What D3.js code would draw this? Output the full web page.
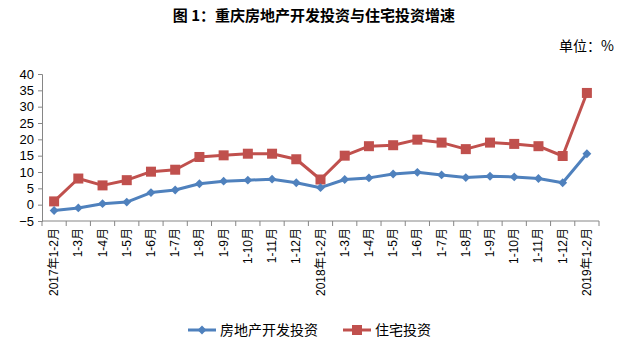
<!DOCTYPE html>
<html>
<head>
<meta charset="utf-8">
<script src="https://cdn.jsdelivr.net/npm/d3@7/dist/d3.min.js"></script>
<style>
  html, body { margin: 0; padding: 0; background: #fff; }
  svg { display: block; }
</style>
</head>
<body>
<svg id="chart" width="628" height="350"></svg>
<script>
// Period labels (cumulative months)
const categories = [
  "2017年1-2月", "1-3月", "1-4月", "1-5月", "1-6月", "1-7月", "1-8月", "1-9月", "1-10月", "1-11月", "1-12月",
  "2018年1-2月", "1-3月", "1-4月", "1-5月", "1-6月", "1-7月", "1-8月", "1-9月", "1-10月", "1-11月", "1-12月",
  "2019年1-2月"
];
// Growth rate, %
const realEstate = [-1.8, -1.0, 0.3, 0.8, 3.7, 4.5, 6.4, 7.2, 7.5, 7.8, 6.7,
  5.2, 7.7, 8.2, 9.4, 9.9, 9.1, 8.3, 8.7, 8.5, 8.0, 6.7, 15.6];
const housing = [1.0, 8.0, 5.9, 7.5, 10.1, 10.7, 14.6, 15.1, 15.6, 15.6, 13.9,
  7.7, 15.0, 17.9, 18.2, 19.9, 19.0, 17.0, 19.0, 18.6, 17.9, 14.9, 34.2];
const yTicks = [-5, 0, 5, 10, 15, 20, 25, 30, 35, 40];
const seriesNames = ["房地产开发投资", "住宅投资"];

const svg = d3.select("#chart");
const fontLatin = "Arial, 'Liberation Sans', 'Noto Sans CJK SC', sans-serif";
const fontCJK = "'Noto Sans CJK SC', sans-serif";

const plot = { left: 42, right: 599, top: 74, bottom: 221 };
const keys = categories.map((c, i) => i);

const x = d3.scaleBand().domain(keys).range([plot.left, plot.right]).padding(0);
const y = d3.scaleLinear().domain([-5, 40]).range([plot.bottom, plot.top]);

// Title and unit
svg.append("text")
  .attr("x", 314).attr("y", 21)
  .attr("text-anchor", "middle")
  .attr("font-family", fontCJK)
  .attr("font-weight", "bold")
  .attr("font-size", 15)
  .text("图 1：重庆房地产开发投资与住宅投资增速");

svg.append("text")
  .attr("x", 614).attr("y", 51)
  .attr("text-anchor", "end")
  .attr("font-family", fontCJK)
  .attr("font-size", 14)
  .text("单位：%");

// Y axis
const yAxis = svg.append("g")
  .attr("transform", `translate(${plot.left},0)`)
  .call(d3.axisLeft(y).tickValues(yTicks).tickSize(4).tickPadding(4));
yAxis.select(".domain").attr("stroke", "#868686");
yAxis.selectAll(".tick line").attr("stroke", "#868686");
yAxis.selectAll(".tick text")
  .attr("font-family", fontLatin).attr("font-size", 13).attr("fill", "#000");

// X axis: ticks at category boundaries
const xg = svg.append("g").attr("transform", `translate(0,${plot.bottom})`);
xg.append("line")
  .attr("x1", plot.left).attr("x2", plot.right)
  .attr("stroke", "#868686");
const boundaries = keys.map(k => x(k)).concat([plot.right]);
xg.selectAll("line.tk").data(boundaries).join("line")
  .attr("class", "tk")
  .attr("x1", d => d).attr("x2", d => d)
  .attr("y1", 0).attr("y2", 5)
  .attr("stroke", "#868686");
xg.selectAll("text.lbl").data(keys).join("text")
  .attr("class", "lbl")
  .attr("transform", k => `translate(${x(k) + x.bandwidth() / 2 + 4},7) rotate(-90)`)
  .attr("text-anchor", "end")
  .attr("font-family", fontLatin)
  .attr("font-size", 12)
  .attr("fill", "#000")
  .text(k => categories[k]);

const cx = i => x(i) + x.bandwidth() / 2;
const line = d3.line().x((d, i) => cx(i)).y(d => y(d));

const blue = "#4F81BD";
const red = "#C0504D";

// Housing investment series
svg.append("path")
  .datum(housing)
  .attr("fill", "none").attr("stroke", red).attr("stroke-width", 3)
  .attr("stroke-linejoin", "round")
  .attr("d", line);
svg.selectAll("rect.hs").data(housing).join("rect")
  .attr("class", "hs")
  .attr("x", (d, i) => cx(i) - 5).attr("y", d => y(d) - 5)
  .attr("width", 10).attr("height", 10)
  .attr("fill", red);

// Real estate development investment series
svg.append("path")
  .datum(realEstate)
  .attr("fill", "none").attr("stroke", blue).attr("stroke-width", 3)
  .attr("stroke-linejoin", "round")
  .attr("d", line);
const diamond = d3.symbol().type(d3.symbolDiamond2).size(50);
svg.selectAll("path.re").data(realEstate).join("path")
  .attr("class", "re")
  .attr("transform", (d, i) => `translate(${cx(i)},${y(d)})`)
  .attr("d", diamond)
  .attr("fill", blue);

// Legend
const legend = svg.append("g").attr("transform", "translate(0,330)");
const items = [
  { name: seriesNames[0], color: blue, x0: 188, shape: "diamond" },
  { name: seriesNames[1], color: red, x0: 343, shape: "square" }
];
items.forEach(it => {
  legend.append("line")
    .attr("x1", it.x0).attr("x2", it.x0 + 28)
    .attr("y1", 0).attr("y2", 0)
    .attr("stroke", it.color).attr("stroke-width", 3);
  if (it.shape === "diamond") {
    legend.append("path")
      .attr("transform", `translate(${it.x0 + 14},0)`)
      .attr("d", diamond).attr("fill", it.color);
  } else {
    legend.append("rect")
      .attr("x", it.x0 + 9).attr("y", -5).attr("width", 10).attr("height", 10)
      .attr("fill", it.color);
  }
  legend.append("text")
    .attr("x", it.x0 + 32).attr("y", 5)
    .attr("font-family", fontCJK).attr("font-size", 14)
    .text(it.name);
});
</script>
</body>
</html>
